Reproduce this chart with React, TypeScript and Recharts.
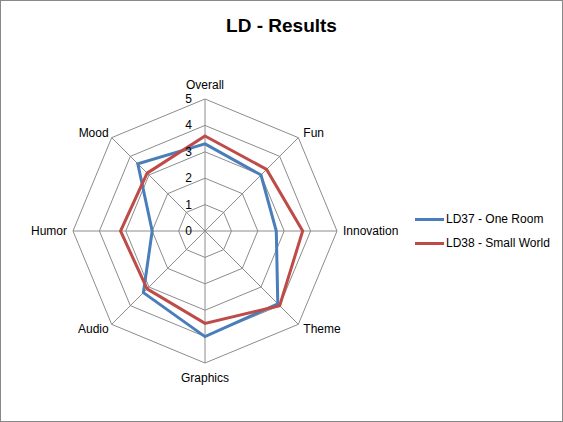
import { RadarChart, Radar, PolarGrid, PolarAngleAxis, PolarRadiusAxis, Legend } from 'recharts';

const categories = ['Overall', 'Fun', 'Innovation', 'Theme', 'Graphics', 'Audio', 'Humor', 'Mood'];
const ld37 = [3.3, 3.0, 2.7, 3.9, 4.0, 3.3, 2.0, 3.6];
const ld38 = [3.6, 3.3, 3.7, 4.0, 3.5, 3.1, 3.2, 3.1];
const radiusTicks = [0, 1, 2, 3, 4, 5];

const data = categories.map((name, i) => ({ name, ld37: ld37[i], ld38: ld38[i] }));

const FONT = '"Liberation Sans", Arial, sans-serif';
const BLUE = '#4A7EBB';
const RED = '#BE4B48';

// labels are placed relative to the outer vertex of each spoke
const AngleTick = ({ x, y, cx, cy, radius, payload }: any) => {
  const a = (payload.coordinate * Math.PI) / 180;
  const c = Math.cos(a);
  const s = Math.sin(a);
  const vx = cx != null && radius != null ? cx + radius * c : x - 8 * c;
  const vy = cy != null && radius != null ? cy - radius * s : y + 8 * s;
  let anchor: 'start' | 'middle' | 'end' = 'middle';
  let dx = 0;
  let dy = 0;
  if (c > 0.9) {
    anchor = 'start';
    dx = 6;
  } else if (c < -0.9) {
    anchor = 'end';
    dx = -6;
  } else if (c > 0.3) {
    anchor = 'start';
    dx = 5;
  } else if (c < -0.3) {
    anchor = 'end';
    dx = -3;
  }
  if (s > 0.9) dy = -14;
  else if (s < -0.9) dy = 15;
  else if (s > 0.3) dy = -5;
  else if (s < -0.3) dy = 5;
  return (
    <text x={vx + dx} y={vy + dy} textAnchor={anchor} dominantBaseline="central" fontSize={12} fontFamily={FONT} fill="#000">
      {payload.value}
    </text>
  );
};

const RadiusTick = ({ x, y, payload }: any) => (
  <text x={x - 13} y={y} textAnchor="end" dominantBaseline="central" fontSize={12} fontFamily={FONT} fill="#000">
    {payload.value}
  </text>
);

const LegendContent = () => (
  <div style={{ fontFamily: FONT, fontSize: 12, color: '#000' }}>
    {[
      { label: 'LD37 - One Room', color: BLUE },
      { label: 'LD38 - Small World', color: RED },
    ].map((item) => (
      <div key={item.label} style={{ display: 'flex', alignItems: 'center', height: 24 }}>
        <span style={{ display: 'inline-block', width: 29, height: 3, background: item.color, marginRight: 2 }} />
        <span>{item.label}</span>
      </div>
    ))}
  </div>
);

export default function App() {
  return (
    <div
      style={{
        width: 563,
        height: 422,
        boxSizing: 'border-box',
        border: '1px solid #888',
        background: '#fff',
        position: 'relative',
      }}
    >
      <style>{'body{margin:0}'}</style>
      <div
        style={{
          position: 'absolute',
          top: 14,
          left: 0,
          width: '100%',
          textAlign: 'center',
          fontFamily: FONT,
          fontWeight: 'bold',
          fontSize: 19,
        }}
      >
        LD - Results
      </div>
      <div style={{ position: 'absolute', top: -1, left: -1 }}>
        <RadarChart
          width={563}
          height={422}
          data={data}
          cx={205}
          cy={231}
          outerRadius={132}
          margin={{ top: 0, right: 0, bottom: 0, left: 0 }}
        >
          <PolarGrid gridType="polygon" stroke="#8C8C8C" strokeWidth={1} />
          <PolarAngleAxis dataKey="name" tick={<AngleTick />} tickLine={false} axisLine={false} />
          <PolarRadiusAxis
            angle={90}
            domain={[0, 5]}
            ticks={radiusTicks as any}
            tickCount={6}
            tick={<RadiusTick />}
            axisLine={false}
            tickLine={false}
          />
          <Radar dataKey="ld37" name="LD37 - One Room" stroke={BLUE} strokeWidth={3} fill="none" fillOpacity={0} dot={false} isAnimationActive={false} />
          <Radar dataKey="ld38" name="LD38 - Small World" stroke={RED} strokeWidth={3} fill="none" fillOpacity={0} dot={false} isAnimationActive={false} />
          <Legend
            layout="vertical"
            align="right"
            verticalAlign="middle"
            content={<LegendContent />}
            wrapperStyle={{ left: 415, top: 207, right: 'auto', width: 150 }}
          />
        </RadarChart>
      </div>
    </div>
  );
}
